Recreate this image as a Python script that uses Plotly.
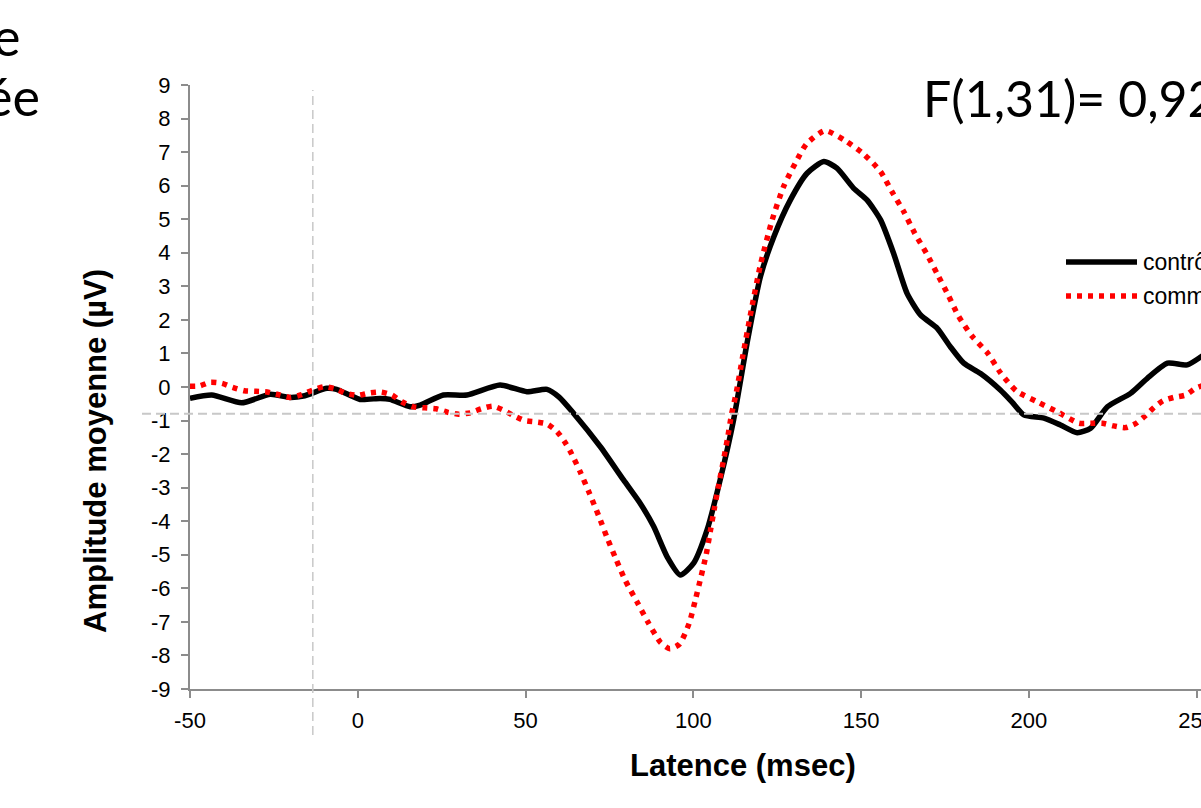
import plotly.graph_objects as go

# ---- data ----
ctrl_x = [-50, -43.5, -34.6, -26.1, -20.2, -16.2, -9.2, -6.3, 0.7, 6.7, 9.6, 15.6, 18.6, 25.5, 32.5,
          42.4, 50.4, 56.4, 60, 64.3, 72.3, 79.2, 84.2, 88.2, 92.2, 96.1, 100.1, 104.1, 108.0, 112.0,
          116.0, 120.0, 124.0, 128.9, 133.9, 138.9, 142.8, 147.8, 151.8, 155.8, 159.7, 163.7, 167.7,
          172.7, 176.6, 180.6, 185.6, 191.5, 195.0, 198.5, 204.5, 209.4, 214.4, 218.4, 223.4, 230.3,
          235.3, 241.3, 247.2, 252.0]
ctrl_y = [-0.34, -0.24, -0.47, -0.22, -0.31, -0.27, -0.04, -0.07, -0.37, -0.34, -0.37, -0.59, -0.54,
          -0.24, -0.24, 0.06, -0.14, -0.07, -0.30, -0.78, -1.78, -2.77, -3.47, -4.16, -5.06, -5.60,
          -5.25, -4.26, -2.77, -0.98, 1.30, 3.29, 4.48, 5.57, 6.37, 6.72, 6.52, 5.92, 5.57, 4.98,
          3.98, 2.79, 2.15, 1.75, 1.20, 0.71, 0.40, -0.09, -0.45, -0.83, -0.93, -1.13, -1.36, -1.23,
          -0.59, -0.19, 0.26, 0.71, 0.66, 0.95]

comm_x = [-50, -47.2, -44.0, -40.5, -37.3, -33.8, -30.3, -27.0, -23.5, -20.2, -16.7, -13.4, -10.0,
          -6.8, -3.5, 0.0, 3.4, 6.9, 10.2, 13.1, 16.6, 19.9, 23.4, 26.7, 30.1, 33.5, 36.8, 40.2,
          43.4, 46.4, 49.7, 53.1, 56.4, 59.4, 61.5, 63.3, 66.3, 69.1, 71.8, 74.3, 77.0, 79.8, 83.2,
          86.5, 90.2, 93.0, 95.9, 98.8, 100.6, 102.3, 103.8, 105.1, 106.3, 107.6, 108.9, 110.2,
          111.4, 112.8, 114.7, 117.3, 120.0, 123.5, 126.9, 130.4, 133.7, 139.2, 145.3, 150.8,
          155.8, 159.2, 162.7, 166.0, 169.5, 172.8, 176.0, 179.1, 183.1, 187.8, 191.5, 196.3,
          202.5, 208.5, 214.9, 218.4, 221.9, 225.3, 228.8, 232.0, 234.8, 237.3, 240.0, 243.2,
          246.7, 249.7, 252.0]
comm_y = [0.02, 0.03, 0.14, 0.11, -0.01, -0.11, -0.13, -0.15, -0.23, -0.31, -0.23, -0.09, 0.01,
          -0.05, -0.19, -0.25, -0.18, -0.15, -0.24, -0.44, -0.59, -0.62, -0.65, -0.75, -0.81, -0.77,
          -0.65, -0.57, -0.69, -0.85, -1.00, -1.04, -1.10, -1.33, -1.61, -1.91, -2.53, -3.18, -3.84,
          -4.49, -5.14, -5.78, -6.40, -7.01, -7.61, -7.80, -7.66, -7.03, -6.35, -5.65, -5.01, -4.28,
          -3.60, -2.90, -2.23, -1.53, -0.81, -0.17, 0.90, 2.30, 3.64, 4.98, 5.97, 6.67, 7.24, 7.64,
          7.34, 6.94, 6.42, 5.82, 5.23, 4.58, 3.98, 3.35, 2.73, 2.10, 1.51, 1.00, 0.43, -0.12,
          -0.44, -0.74, -1.08, -1.08, -1.08, -1.16, -1.21, -1.08, -0.85, -0.61, -0.41, -0.31,
          -0.24, -0.04, 0.05]

series_names = ["contrôles", "commotionnés"]
x_ticks = [-50, 0, 50, 100, 150, 200, 250]
x_tick_labels = ["-50", "0", "50", "100", "150", "200", "250"]
y_ticks = list(range(-9, 10))
y_tick_labels = [str(v) for v in y_ticks]
stim_onset = -13.4
baseline_level = -0.8

# ---- layout constants ----
W, H = 1201, 808
ML, MR, MT, MB = 190, 0, 85, 119
PW, PH = W - ML - MR, H - MT - MB
X_RANGE = [-50, 251.3]
COLORS = ["black", "#ff0000"]
DASHES = ["solid", "5px,6px"]
LW = 5.5


def px_x(p):
    return (p - ML) / PW


def px_y(p):
    return 1 - (p - MT) / PH


fig = go.Figure()
for name, xs, ys, col, dash in zip(series_names, [ctrl_x, comm_x], [ctrl_y, comm_y], COLORS, DASHES):
    fig.add_trace(go.Scatter(x=xs, y=ys, mode="lines", name=name, showlegend=False,
                             line=dict(color=col, width=LW, dash=dash, shape="spline",
                                       smoothing=0.6)))

axis_common = dict(showgrid=False, zeroline=False, showline=True, linecolor="#8c8c8c",
                   linewidth=2, ticks="outside", ticklen=7, tickwidth=1.5, tickcolor="#8c8c8c",
                   ticklabeloverflow="allow", automargin=False)
tick_font = dict(family="Liberation Sans, Arial", size=22, color="black")

fig.update_xaxes(range=X_RANGE, tickvals=x_ticks, ticktext=x_tick_labels, tickfont=tick_font,
                 ticklabelstandoff=4, **axis_common)
fig.update_yaxes(range=[-9, 9], tickvals=y_ticks, ticktext=y_tick_labels, tickfont=tick_font,
                 ticklabelstandoff=6, **axis_common)

# reference lines
fig.add_shape(type="line", xref="paper", yref="y", x0=px_x(142), x1=1.0,
              y0=baseline_level, y1=baseline_level, layer="above",
              line=dict(color="#c8c8c8", width=2, dash="9px,5px"))
fig.add_shape(type="line", xref="x", yref="paper", x0=stim_onset, x1=stim_onset,
              y0=px_y(735), y1=px_y(90), layer="above",
              line=dict(color="#c8c8c8", width=1.5, dash="9px,5px"))

# legend (drawn manually so it can run off the right edge like the reference)
legend_rows = [262, 296]
for row, col, dash in zip(legend_rows, COLORS, DASHES):
    fig.add_shape(type="line", xref="paper", yref="paper", x0=px_x(1066), x1=px_x(1137),
                  y0=px_y(row), y1=px_y(row), line=dict(color=col, width=LW, dash=dash))

annotations = [
    dict(text="<b>Latence (msec)</b>", x=px_x(743), y=px_y(765), xref="paper", yref="paper",
         showarrow=False, font=dict(family="Liberation Sans, Arial", size=31, color="black"),
         xanchor="center", yanchor="middle"),
    dict(text="<b>Amplitude moyenne (µV)</b>", x=px_x(95), y=px_y(451), xref="paper",
         yref="paper", showarrow=False, textangle=-90,
         font=dict(family="Liberation Sans, Arial", size=31, color="black"),
         xanchor="center", yanchor="middle"),
    dict(text="F(1,31)= 0,92", x=px_x(921), y=px_y(98), xref="paper", yref="paper",
         showarrow=False, font=dict(family="Lato", size=50, color="black"),
         xanchor="left", yanchor="middle"),
    dict(text="e", x=px_x(22), y=px_y(36), xref="paper", yref="paper",
         showarrow=False, font=dict(family="Lato", size=52, color="black"),
         xanchor="right", yanchor="middle"),
    dict(text="ée", x=px_x(42), y=px_y(96), xref="paper", yref="paper",
         showarrow=False, font=dict(family="Lato", size=52, color="black"),
         xanchor="right", yanchor="middle"),
]
for row, name in zip(legend_rows, series_names):
    annotations.append(dict(text=name, x=px_x(1141), y=px_y(row), xref="paper", yref="paper",
                            showarrow=False, xanchor="left", yanchor="middle",
                            font=dict(family="Liberation Sans, Arial", size=23, color="black")))

fig.update_layout(
    width=W, height=H,
    margin=dict(l=ML, r=MR, t=MT, b=MB, pad=0, autoexpand=False),
    paper_bgcolor="white", plot_bgcolor="white",
    showlegend=False,
    annotations=annotations,
)

fig.write_html("out.html")
